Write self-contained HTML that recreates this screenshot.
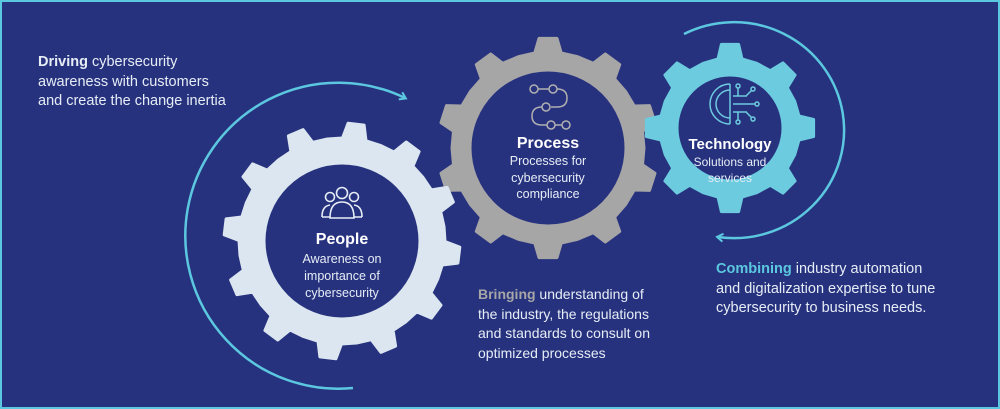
<!DOCTYPE html>
<html><head><meta charset="utf-8"><style>
html,body{margin:0;padding:0}
body{width:1000px;height:409px;overflow:hidden;background:#27327f;font-family:"Liberation Sans",sans-serif}
.frame{position:absolute;left:0;top:0;width:996px;height:405px;border:2px solid #5cc8e0;background:#27327f}
.t{position:absolute;color:#e6edf5;line-height:19.5px}
</style></head><body>
<div class="frame"></div>
<svg id="s" width="1000" height="409" style="position:absolute;left:0;top:0">
<defs>
<marker id="ah" markerWidth="10" markerHeight="10" refX="6" refY="5" orient="auto" markerUnits="userSpaceOnUse">
<path d="M1,1 L7,5 L1,9" fill="none" stroke="#5cc8e0" stroke-width="2"/></marker>
</defs>
<g id="gears"></g>
<path d="M 353 388 A 153 153 0 1 1 405 98" fill="none" stroke="#5cc8e0" stroke-width="2.5" marker-end="url(#ah)"/>
<path d="M 684 34 A 110 108 0 1 1 718 237" fill="none" stroke="#5cc8e0" stroke-width="2.5" marker-end="url(#ah)"/>
<g fill="none" stroke="#e6edf5" stroke-width="1.6">
<circle cx="330" cy="197" r="4.5"/><circle cx="342" cy="193" r="5.5"/><circle cx="354" cy="197" r="4.5"/>
<path d="M322 217 q0-11 8-12 M362 217 q0-11 -8-12"/>
<path d="M330 218 q0-16 12-16 q12 0 12 16 z"/>
<path d="M322 217 h8 M354 217 h8"/>
</g>
<g fill="none" stroke="#b0b0b0" stroke-width="1.5">
<circle cx="534" cy="89" r="4"/><circle cx="553" cy="89" r="4"/><path d="M538 89 h11"/>
<path d="M557 89 q10 0 10 9 q0 9 -10 9 h-6"/><circle cx="546" cy="107" r="4"/>
<path d="M542 107 q-10 0 -10 9 q0 9 10 9 h5"/><circle cx="551" cy="125" r="4"/><circle cx="566" cy="125" r="4"/><path d="M555 125 h7"/>
</g>
<g fill="none" stroke="#6ccbdf" stroke-width="1.5">
<path d="M730 84 a20 20 0 0 0 0 40"/><path d="M730 90 a14 14 0 0 0 0 28"/>
<path d="M730 84 v40 M733 96 h14 M733 104 h22 M733 112 h14 M738 96 v-8 M738 112 v8 M746 96 l6-6 M746 112 l6 6"/>
<circle cx="738" cy="86" r="2"/><circle cx="738" cy="122" r="2"/><circle cx="757" cy="104" r="2"/><circle cx="753" cy="89" r="2"/><circle cx="753" cy="119" r="2"/>
</g>
<g font-family="Liberation Sans, sans-serif" fill="#ffffff" text-anchor="middle">
<text x="342" y="244" font-size="16" font-weight="bold">People</text>
<text x="342" y="263" font-size="12.5" fill="#e6edf5">Awareness on</text>
<text x="342" y="280" font-size="12.5" fill="#e6edf5">importance of</text>
<text x="342" y="297" font-size="12.5" fill="#e6edf5">cybersecurity</text>
<text x="548" y="148" font-size="16" font-weight="bold">Process</text>
<text x="548" y="165" font-size="12.5" fill="#e6edf5">Processes for</text>
<text x="548" y="182" font-size="12.5" fill="#e6edf5">cybersecurity</text>
<text x="548" y="198" font-size="12.5" fill="#e6edf5">compliance</text>
<text x="730" y="149" font-size="15" font-weight="bold">Technology</text>
<text x="730" y="166" font-size="12" fill="#e6edf5">Solutions and</text>
<text x="730" y="182" font-size="12" fill="#e6edf5">services</text>
</g>
</svg>
<div class="t" style="left:38px;top:53px;font-size:14.5px"><b>Driving</b> cybersecurity<br>awareness with customers<br>and create the change inertia</div>
<div class="t" style="left:478px;top:285px;font-size:14px"><b style="color:#a6a6a6">Bringing</b> understanding of<br>the industry, the regulations<br>and standards to consult on<br>optimized processes</div>
<div class="t" style="left:716px;top:260px;font-size:14.5px"><b style="color:#5cc8e0">Combining</b> industry automation<br>and digitalization expertise to tune<br>cybersecurity to business needs.</div>
<script>
function gear(cx,cy,ro,rr,ri,n,off,col){
 var d="",step=2*Math.PI/n;
 for(var i=0;i<n;i++){
  var a=off+i*step;
  var pts=[[rr,a-step*0.5],[rr,a-step*0.22],[ro,a-step*0.13],[ro,a+step*0.13],[rr,a+step*0.22]];
  pts.forEach(function(p,j){var x=cx+p[0]*Math.cos(p[1]),y=cy+p[0]*Math.sin(p[1]);d+=(i==0&&j==0?"M":"L")+x.toFixed(1)+" "+y.toFixed(1)+" ";});
 }
 d+="Z M "+(cx+ri)+" "+cy+" A "+ri+" "+ri+" 0 1 0 "+(cx-ri)+" "+cy+" A "+ri+" "+ri+" 0 1 0 "+(cx+ri)+" "+cy+" Z";
 return '<path d="'+d+'" fill="'+col+'" fill-rule="evenodd" stroke="'+col+'" stroke-width="3" stroke-linejoin="round"/>';
}
document.getElementById("gears").innerHTML=
 gear(548,148,110,96,78,10,-Math.PI/2,"#a6a6a6")+
 gear(730,128,84,70,53,8,-Math.PI/2,"#6ccbdf")+
 gear(342,241,118,103,78,12,-Math.PI/2+0.12,"#dbe6f0");
</script>
</body></html>
